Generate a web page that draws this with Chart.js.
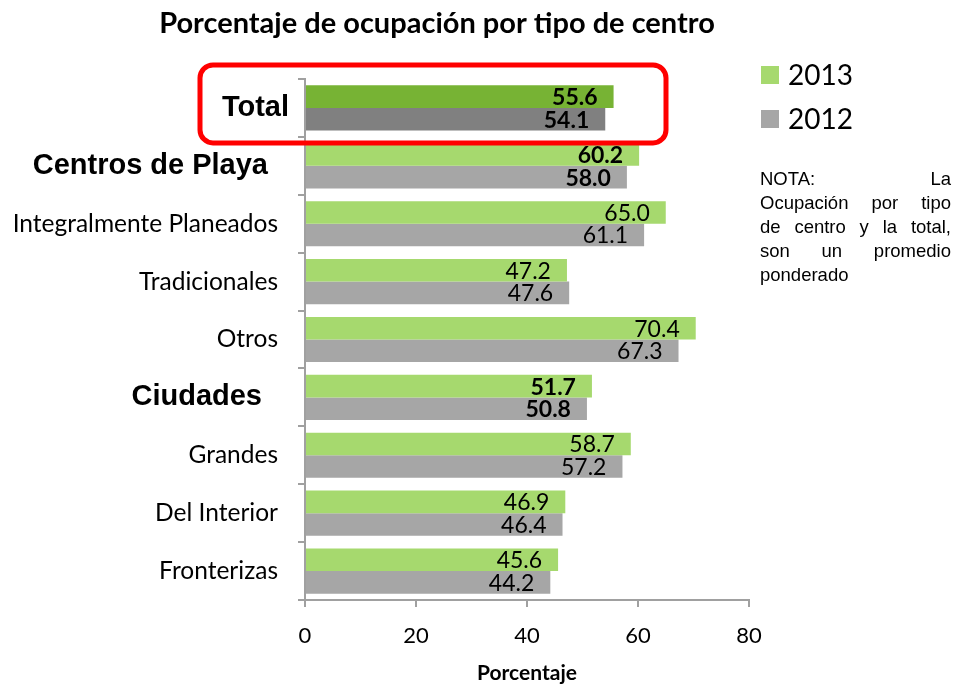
<!DOCTYPE html>
<html>
<head>
<meta charset="utf-8">
<script src="https://cdn.jsdelivr.net/npm/chart.js@4"></script>
<style>
  body { margin: 0; background: #fff; }
  #wrap { position: relative; width: 957px; height: 684px; }
  #nota {
    position: absolute; left: 760px; top: 167px; width: 191px;
    font-family: "Liberation Sans", Arial, sans-serif; font-size: 18.5px;
    line-height: 24px; color: #000;
  }
  #nota div { text-align: justify; text-align-last: justify; white-space: nowrap; }
  #nota div:last-child { text-align-last: left; }
</style>
</head>
<body>
<div id="wrap">
  <canvas id="chart" width="957" height="684"></canvas>
  <div id="nota">
    <div>NOTA: La</div>
    <div>Ocupación por tipo</div>
    <div>de centro y la total,</div>
    <div>son un promedio</div>
    <div>ponderado</div>
  </div>
</div>
<script>
// Data
const categories = ["Total", "Centros de Playa", "Integralmente Planeados", "Tradicionales",
  "Otros", "Ciudades", "Grandes", "Del Interior", "Fronterizas"];
const values2013 = [55.6, 60.2, 65.0, 47.2, 70.4, 51.7, 58.7, 46.9, 45.6];
const values2012 = [54.1, 58.0, 61.1, 47.6, 67.3, 50.8, 57.2, 46.4, 44.2];
const xTicks = [0, 20, 40, 60, 80];

// rows shown as group headings (bold labels)
const boldRows = [0, 1, 5];
// gap between each category label and the axis, as in the original
const labelGap = [16, 37, 27, 27, 27, 43, 27, 27, 27];

const green = "#a6d96e", greenDark = "#77b334";
const gray = "#a6a6a6", grayDark = "#808080";
const axisColor = "#a0a0a0";

function rowColors(light, dark) {
  return categories.map((_, i) => (i === 0 ? dark : light));
}

// value labels inside the bar ends + category labels
const labels = {
  id: "labels",
  afterDatasetsDraw(chart) {
    const ctx = chart.ctx;
    const y = chart.scales.y;
    ctx.save();
    ctx.fillStyle = "#000";
    ctx.textAlign = "right";
    ctx.textBaseline = "middle";
    chart.data.datasets.forEach((ds, di) => {
      chart.getDatasetMeta(di).data.forEach((bar, i) => {
        const bold = boldRows.includes(i);
        ctx.font = (bold ? "bold " : "") + "23px Lato";
        ctx.fillText(ds.data[i].toFixed(1), bar.x - 16, bar.y + 1);
      });
    });
    categories.forEach((name, i) => {
      ctx.font = boldRows.includes(i) ? "bold 29px 'Liberation Sans'" : "24.5px Lato";
      ctx.fillText(name, chart.chartArea.left - labelGap[i], y.getPixelForValue(i));
    });
    ctx.restore();
  }
};

// title, legend and the red box around "Total"
const extras = {
  id: "extras",
  afterDraw(chart) {
    const ctx = chart.ctx;
    const y = chart.scales.y;
    ctx.save();
    ctx.fillStyle = "#000";
    ctx.textAlign = "center";
    ctx.textBaseline = "middle";
    ctx.font = "bold 29px Lato";
    ctx.fillText("Porcentaje de ocupación por tipo de centro", 437, 24);

    // legend
    ctx.textAlign = "left";
    ctx.font = "28px Lato";
    chart.data.datasets.forEach((ds, i) => {
      const top = 66 + i * 44;
      ctx.fillStyle = i === 0 ? green : gray;
      ctx.fillRect(761, top, 18, 18);
      ctx.fillStyle = "#000";
      ctx.fillText(ds.label, 788, top + 10);
    });

    // highlight box
    const half = (y.getPixelForValue(1) - y.getPixelForValue(0)) / 2;
    const top = y.getPixelForValue(0) - half - 14;
    const bottom = y.getPixelForValue(0) + half + 6;
    ctx.strokeStyle = "#ff0000";
    ctx.lineWidth = 5;
    ctx.beginPath();
    ctx.roundRect(200, top, 466, bottom - top, 13);
    ctx.stroke();
    ctx.restore();
  }
};

new Chart(document.getElementById("chart"), {
  type: "bar",
  data: {
    labels: categories,
    datasets: [
      { label: "2013", data: values2013, backgroundColor: rowColors(green, greenDark) },
      { label: "2012", data: values2012, backgroundColor: rowColors(gray, grayDark) }
    ]
  },
  options: {
    indexAxis: "y",
    responsive: false,
    animation: false,
    categoryPercentage: 0.78,
    barPercentage: 1,
    layout: { padding: { left: 0, right: 208, top: 79, bottom: 0 } },
    plugins: {
      legend: { display: false },
      tooltip: { enabled: false }
    },
    scales: {
      x: {
        min: 0, max: 80,
        afterBuildTicks: (s) => { s.ticks = xTicks.map(v => ({ value: v })); },
        afterFit: (s) => { s.height = 84; },
        grid: { drawOnChartArea: false, tickLength: 7, color: axisColor, lineWidth: 2 },
        border: { color: axisColor, width: 2 },
        ticks: { color: "#000", font: { family: "Lato", size: 22 }, padding: 16 },
        title: { display: true, text: "Porcentaje", color: "#000",
          font: { family: "Lato", size: 21, weight: "bold", lineHeight: 1 },
          padding: { top: 0, bottom: 0 } }
      },
      y: {
        afterFit: (s) => { s.width = 305; },
        grid: { drawOnChartArea: false, offset: true, tickLength: 7, color: axisColor, lineWidth: 2 },
        border: { color: axisColor, width: 2 },
        ticks: { display: false }
      }
    }
  },
  plugins: [labels, extras]
});
</script>
</body>
</html>
